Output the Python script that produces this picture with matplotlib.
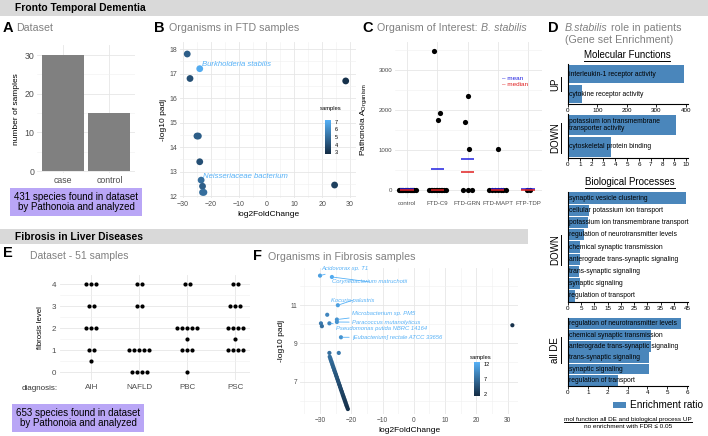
import numpy as np
import matplotlib
matplotlib.use("Agg")
import matplotlib.pyplot as plt
from matplotlib.colors import LinearSegmentedColormap, Normalize
from matplotlib.patches import Rectangle
from matplotlib.lines import Line2D

plt.rcParams['font.family'] = ['Liberation Sans', 'DejaVu Sans']

W, H = 708, 436

# ---- data ----
# A
a_groups = ["case", "control"]
a_counts = [30, 15]

# B
b_lfc = [-28.5, -24.0, -27.5, 28.5, -25.0, -24.5, -24.0, -23.5, -23.0, -23.0, -22.5, 24.5]
b_padj = [17.8, 17.2, 16.8, 16.7, 14.45, 14.45, 13.4, 12.65, 12.4, 12.15, 12.15, 12.45]
b_samples = [4.5, 7, 4, 3, 4.5, 4.5, 4, 5, 4.5, 5, 5, 3.5]

# C
c_groups = ["control", "FTD-C9", "FTD-GRN", "FTD-MAPT", "FTP-TDP"]
c_values = {
    "control": [0] * 15,
    "FTD-C9": [3470, 1930, 1740] + [0] * 11,
    "FTD-GRN": [2360, 1690, 1020, 0, 0, 0],
    "FTD-MAPT": [1030] + [0] * 7,
    "FTP-TDP": [0, 0],
}
c_mean = [15, 520, 780, 25, 15]
c_median = [0, 0, 450, 0, 0]

# D
mf_up_terms = ["interleukin-1 receptor activity", "cytokine receptor activity"]
mf_up_ratio = [395, 47]
mf_down_terms = ["potassium ion transmembrane\ntransporter activity", "cytoskeletal protein binding"]
mf_down_ratio = [9.15, 3.65]
bp_down_terms = ["synaptic vesicle clustering", "cellular potassium ion transport",
                 "potassium ion transmembrane transport", "regulation of neurotransmitter levels",
                 "chemical synaptic transmission", "anterograde trans-synaptic signaling",
                 "trans-synaptic signaling", "synaptic signaling", "regulation of transport"]
bp_down_ratio = [44.5, 7.8, 7.5, 6.0, 4.5, 4.4, 4.3, 4.4, 2.7]
bp_all_terms = ["regulation of neurotransmitter levels", "chemical synaptic transmission",
                "anterograde trans-synaptic signaling", "trans-synaptic signaling",
                "synaptic signaling", "regulation of transport"]
bp_all_ratio = [5.7, 4.2, 4.2, 4.1, 4.1, 2.5]

# E
e_groups = ["AIH", "NAFLD", "PBC", "PSC"]
e_levels = {
    "AIH": {4: 3, 3: 2, 2: 3, 1: 2, 0.5: 1},
    "NAFLD": {4: 2, 3: 2, 1: 5, 0: 4},
    "PBC": {4: 2, 2: 5, 1.5: 1, 1: 3, 0: 1},
    "PSC": {4: 2, 3: 3, 2: 4, 1.5: 1, 1: 4},
}

# F
f_lfc = [-30.0, -26.2, -24.3, -27.7, -24.6, -24.6, -27.0, -29.7, -29.4, -23.3, -27.0, -24.0, 31.5,
         -26.9, -26.7, -26.6, -26.4, -26.3, -26.1, -26.0, -25.8, -25.7, -25.5, -25.4, -25.2, -25.1,
         -24.9, -24.8, -24.6, -24.5, -24.3, -24.2, -24.0, -23.9, -23.7, -23.6, -23.4, -23.3, -23.1,
         -23.0, -22.8, -22.7, -22.5, -22.4, -22.2, -22.1, -21.9, -21.8, -21.6, -21.5, -21.3, -21.1]
f_padj = [12.55, 12.48, 11.0, 10.5, 10.25, 10.12, 10.05, 10.05, 9.9, 9.32, 8.5, 8.5, 9.95,
          8.30, 8.22, 8.15, 8.07, 8.01, 7.93, 7.86, 7.78, 7.72, 7.64, 7.57, 7.50, 7.44,
          7.36, 7.29, 7.22, 7.15, 7.07, 7.01, 6.93, 6.86, 6.79, 6.72, 6.64, 6.58, 6.50,
          6.44, 6.36, 6.29, 6.22, 6.15, 6.08, 6.01, 5.94, 5.87, 5.79, 5.73, 5.65, 5.56]
f_samples = [11, 12, 11, 9, 10, 10, 9, 8, 7, 10, 7, 8, 2,
             7, 7, 7, 6.5, 6.5, 6.5, 6, 6, 6, 6, 5.5, 5.5, 5.5,
             5, 5, 5, 5, 4.5, 4.5, 4.5, 4.5, 4, 4, 4, 4, 3.5,
             3.5, 3.5, 3.5, 3, 3, 3, 3, 2.5, 2.5, 2.5, 2.5, 2, 2]
f_labels = {
    "Acidovorax sp. T1": (0, (-29.7, 12.9)),
    "Corynebacterium matruchotii": (1, (-26.2, 12.22)),
    "Kocuria palustris": (2, (-26.5, 11.26)),
    "Microbacterium sp. PM5": (4, (-19.8, 10.55)),
    "Paracoccus mutanolyticus": (5, (-19.8, 10.1)),
    "Pseudomonas putida NBRC 14164": (6, (-24.9, 9.78)),
    "[Eubacterium] rectale ATCC 33656": (9, (-19.8, 9.32)),
}

# ---- helpers ----
fig = plt.figure(figsize=(W / 100, H / 100), dpi=100)

def add_ax(x0, y0, x1, y1):
    return fig.add_axes([x0 / W, 1 - y1 / H, (x1 - x0) / W, (y1 - y0) / H])

def ftext(x, y, s, **kw):
    return fig.text(x / W, 1 - y / H, s, **kw)

def underline(t, pad=1.0):
    fig.canvas.draw()
    bb = t.get_window_extent(fig.canvas.get_renderer())
    fig.add_artist(Line2D([bb.x0 / W, bb.x1 / W], [(bb.y0 - pad) / H] * 2,
                          transform=fig.transFigure, color="black", lw=0.7))

def vunderline(t, pad=1.0):
    fig.canvas.draw()
    bb = t.get_window_extent(fig.canvas.get_renderer())
    fig.add_artist(Line2D([(bb.x1 + pad) / W] * 2, [bb.y0 / H, bb.y1 / H],
                          transform=fig.transFigure, color="black", lw=0.7))

def gg_style(ax):
    for s in ax.spines.values():
        s.set_visible(False)
    ax.set_axisbelow(True)
    ax.grid(True, which="major", color="#e6e6e6", lw=0.6)
    ax.grid(True, which="minor", color="#f0f0f0", lw=0.4)
    ax.tick_params(length=0, colors="#4d4d4d", which="both")

gg_blue = LinearSegmentedColormap.from_list("gg", ["#132B43", "#56B1F7"])
gray_title = "#808080"
bar_blue = "#4A86BB"
TS = 7.7   # panel title size
LS = 10.5  # panel letter size

# ---- headers ----
fig.add_artist(Rectangle((0, 1 - 16 / H), 1, 16 / H, transform=fig.transFigure, color="#d9d9d9", lw=0))
ftext(15, 8, "Fronto Temporal Dementia", fontsize=7.4, fontweight="bold", va="center")
fig.add_artist(Rectangle((0, 1 - 244 / H), 528 / W, 15 / H, transform=fig.transFigure, color="#d9d9d9", lw=0))
ftext(15, 236.5, "Fibrosis in Liver Diseases", fontsize=7.4, fontweight="bold", va="center")

# ---- A ----
ftext(3, 28, "A", fontsize=LS, fontweight="bold", va="center")
ftext(16, 28, "Dataset", fontsize=TS, color=gray_title, va="center")
ax = add_ax(37, 45, 135, 173)
gg_style(ax)
ax.bar(range(len(a_groups)), a_counts, width=0.9, color="#808080")
ax.set_xlim(-0.55, 1.55)
ax.set_ylim(-0.5, 32.6)
ax.set_yticks([0, 10, 20, 30])
ax.set_yticks([5, 15, 25], minor=True)
ax.set_xticks(range(len(a_groups)))
ax.set_xticklabels(a_groups)
ax.tick_params(labelsize=6.3, pad=2)
ax.set_ylabel("number of samples", fontsize=6.0, labelpad=3)
ftext(76, 202, "431 species found in dataset\nby Pathonoia and analyzed", fontsize=7.0, ha="center", va="center",
      linespacing=1.05, bbox=dict(boxstyle="square,pad=0.4", fc="#b9a6f6", ec="none"))

# ---- B ----
ftext(154, 28, "B", fontsize=LS, fontweight="bold", va="center")
ftext(169, 28, "Organisms in FTD samples", fontsize=TS, color=gray_title, va="center")
ax = add_ax(180, 42, 356, 198)
gg_style(ax)
norm_b = Normalize(2.8, 7.2)
sc = ax.scatter(b_lfc, b_padj, c=b_samples, cmap=gg_blue, norm=norm_b, s=24, lw=0)
ax.set_xlim(-31.1, 32.2)
ax.set_ylim(11.92, 18.29)
ax.set_xticks([-30, -20, -10, 0, 10, 20, 30])
ax.set_xticks([-25, -15, -5, 5, 15, 25], minor=True)
ax.set_yticks([12, 13, 14, 15, 16, 17, 18])
ax.set_yticks(np.arange(12.5, 18, 1), minor=True)
ax.tick_params(labelsize=5.0, pad=2)
ax.set_xlabel("log2FoldChange", fontsize=6.0, labelpad=2)
ax.set_ylabel("-log10 padj", fontsize=6.0, labelpad=2)
ax.text(b_lfc[1] + 0.8, b_padj[1] + 0.1, "Burkholderia stabilis", fontsize=5.6, style="italic", color="#56B1F7")
ax.text(b_lfc[7] + 0.8, b_padj[7] + 0.1, "Neisseriaceae bacterium", fontsize=5.6, style="italic", color="#56B1F7")
cax = add_ax(325, 120, 331, 154)
cb = fig.colorbar(sc, cax=cax, ticks=[3, 4, 5, 6, 7])
cb.outline.set_visible(False)
cb.ax.tick_params(labelsize=4, length=1.5, pad=1, color="white")
ftext(320, 108, "samples", fontsize=4.2, va="center")

# ---- C ----
ftext(362, 28, "C", fontsize=LS, fontweight="bold", va="center")
t = ftext(377, 28, "Organism of Interest: ", fontsize=TS, color=gray_title, va="center")
fig.canvas.draw()
bb = t.get_window_extent(fig.canvas.get_renderer())
fig.text(bb.x1 / W, 1 - 28 / H, "B. stabilis", fontsize=TS, color=gray_title, style="italic", va="center")
ax = add_ax(395, 42, 542, 198)
gg_style(ax)
for i, g in enumerate(c_groups):
    vals = np.array(c_values[g], dtype=float)
    zeros = vals[vals == 0]
    nz = vals[vals != 0]
    nzero = len(zeros)
    spread = {"control": 0.28, "FTD-C9": 0.28, "FTD-GRN": 0.14, "FTD-MAPT": 0.28, "FTP-TDP": 0.05}[g]
    xs = i + np.linspace(-spread, spread, nzero) if nzero > 1 else np.array([i] * nzero)
    ax.scatter(xs, zeros, s=14, color="black", lw=0, zorder=3)
    off = [0.0] * len(nz)
    if g == "FTD-C9":
        off = [-0.12, 0.1, 0.02]
    if g == "FTD-GRN":
        off = [0.02, -0.1, 0.04]
    ax.scatter(i + np.array(off), nz, s=14, color="black", lw=0, zorder=3)
    ax.hlines(c_mean[i], i - 0.22, i + 0.22, color="#2020e0", lw=1.1, zorder=4)
    ax.hlines(c_median[i], i - 0.22, i + 0.22, color="#e02020", lw=1.1, zorder=4)
ax.set_xlim(-0.4, 4.46)
ax.set_ylim(-200, 3700)
ax.set_xticks(range(len(c_groups)))
ax.set_xticklabels(c_groups)
ax.set_yticks([0, 1000, 2000, 3000])
ax.set_yticks([500, 1500, 2500, 3500], minor=True)
ax.tick_params(labelsize=4.4, pad=2)
ax.set_ylabel("Pathonoia A$_{\\mathregular{Organism}}$", fontsize=6.0, labelpad=6)
ftext(502, 78, "\u2013 mean", fontsize=4.6, color="#2020e0", va="center")
ftext(502, 84, "\u2013 median", fontsize=4.6, color="#e02020", va="center")

# ---- D ----
ftext(548, 28, "D", fontsize=LS, fontweight="bold", va="center")
t = ftext(565, 28, "B.stabilis", fontsize=TS, color=gray_title, style="italic", va="center")
fig.canvas.draw()
bb = t.get_window_extent(fig.canvas.get_renderer())
fig.text(bb.x1 / W, 1 - 28 / H, " role in patients", fontsize=TS, color=gray_title, va="center")
ftext(565, 40, "(Gene set Enrichment)", fontsize=TS, color=gray_title, va="center")

def enrich(ax, terms, vals, xmax, ticks):
    y = np.arange(len(terms))[::-1]
    ax.barh(y, vals, height=0.92, color=bar_blue, lw=0)
    for yi, t in zip(y, terms):
        ax.text(xmax * 0.01, yi, t, fontsize=4.9, va="center", ha="left", linespacing=0.95)
    ax.set_xlim(0, xmax)
    ax.set_ylim(-0.5, len(terms) - 0.5)
    ax.set_yticks([])
    ax.set_xticks(ticks)
    for s in ["top", "right"]:
        ax.spines[s].set_visible(False)
    ax.spines["left"].set_linewidth(0.8)
    ax.spines["bottom"].set_linewidth(0.8)
    ax.tick_params(axis="x", labelsize=4.5, length=1.8, width=0.6, pad=1)

t = ftext(627, 55, "Molecular Functions", fontsize=7, ha="center", va="center")
underline(t)
ax = add_ax(568, 64, 688, 104)
enrich(ax, mf_up_terms, mf_up_ratio, 408, [0, 100, 200, 300, 400])
t = ftext(555, 84, "UP", fontsize=7, rotation=90, ha="center", va="center")
vunderline(t)
ax = add_ax(568, 114, 688, 158)
enrich(ax, mf_down_terms, mf_down_ratio, 10.15, range(0, 11))
t = ftext(555, 138, "DOWN", fontsize=7, rotation=90, ha="center", va="center")
vunderline(t)

t = ftext(630, 182, "Biological Processes", fontsize=7, ha="center", va="center")
underline(t)
ax = add_ax(568, 192, 688, 302)
enrich(ax, bp_down_terms, bp_down_ratio, 45.4, range(0, 46, 5))
t = ftext(555, 250, "DOWN", fontsize=7, rotation=90, ha="center", va="center")
vunderline(t)
ax = add_ax(568, 318, 688, 386)
enrich(ax, bp_all_terms, bp_all_ratio, 6.05, range(0, 7))
t = ftext(555, 350, "all DE", fontsize=7, rotation=90, ha="center", va="center")
vunderline(t)

fig.add_artist(Rectangle((613 / W, 1 - 408 / H), 13 / W, 6 / H, transform=fig.transFigure, color=bar_blue, lw=0))
ftext(630, 404.5, "Enrichment ratio", fontsize=7.2, va="center")
t = ftext(628, 419, "mol function all DE and biological process UP", fontsize=4.6, ha="center", va="center")
underline(t, pad=0.3)
ftext(628, 426.5, "no enrichment with FDR \u2264 0.05", fontsize=4.6, ha="center", va="center")

# ---- E ----
ftext(3, 253, "E", fontsize=LS, fontweight="bold", va="center")
ftext(30, 256, "Dataset - 51 samples", fontsize=7.5, color=gray_title, va="center")
ax = add_ax(60, 275, 250, 380)
gg_style(ax)
for i, g in enumerate(e_groups):
    for lvl, n in e_levels[g].items():
        xs = i + (np.arange(n) - (n - 1) / 2) * 0.105
        ax.scatter(xs, [lvl] * n, s=9, color="black", lw=0)
ax.set_xlim(-0.65, 3.31)
ax.set_ylim(-0.36, 4.41)
ax.set_xticks(range(len(e_groups)))
ax.set_xticklabels(e_groups)
ax.set_yticks([0, 1, 2, 3, 4])
ax.set_yticks([0.5, 1.5, 2.5, 3.5], minor=True)
ax.tick_params(labelsize=5.8, pad=3)
ax.set_ylabel("fibrosis level", fontsize=5.6, labelpad=5)
ftext(58, 388, "diagnosis:", fontsize=5.8, ha="right", va="center", color="#333333")
ftext(78, 418, "653 species found in dataset\nby Pathonoia and analyzed", fontsize=7.0, ha="center", va="center",
      linespacing=1.05, bbox=dict(boxstyle="square,pad=0.4", fc="#b9a6f6", ec="none"))

# ---- F ----
ftext(253, 256, "F", fontsize=LS, fontweight="bold", va="center")
ftext(268, 257, "Organisms in Fibrosis samples", fontsize=TS, color=gray_title, va="center")
ax = add_ax(300, 268, 518, 414)
gg_style(ax)
norm_f = Normalize(1.5, 12.5)
sc = ax.scatter(f_lfc, f_padj, c=f_samples, cmap=gg_blue, norm=norm_f, s=9, lw=0, zorder=3)
for name, (idx, (tx, ty)) in f_labels.items():
    ax.annotate(name, xy=(f_lfc[idx], f_padj[idx]), xytext=(tx, ty), fontsize=4.2, style="italic",
                color="#56B1F7", va="center", ha="left",
                arrowprops=dict(arrowstyle="-", color="#56B1F7", lw=0.6, shrinkA=0, shrinkB=1))
ax.set_xlim(-36.4, 33.3)
ax.set_ylim(5.3, 12.95)
ax.set_xticks([-30, -20, -10, 0, 10, 20, 30])
ax.set_xticks([-35, -25, -15, -5, 5, 15, 25], minor=True)
ax.set_yticks([7, 9, 11])
ax.set_yticks([6, 8, 10, 12], minor=True)
ax.tick_params(labelsize=4.8, pad=2)
ax.set_xlabel("log2FoldChange", fontsize=6.0, labelpad=2)
ax.set_ylabel("-log10 padj", fontsize=6.0, labelpad=4)
cax = add_ax(474, 362, 480, 396)
cb = fig.colorbar(sc, cax=cax, ticks=[2, 7, 12])
cb.outline.set_visible(False)
cb.ax.tick_params(labelsize=4, length=1.5, pad=1, color="white")
ftext(470, 357, "samples", fontsize=4.2, va="center")

fig.savefig("out.png", dpi=100)
